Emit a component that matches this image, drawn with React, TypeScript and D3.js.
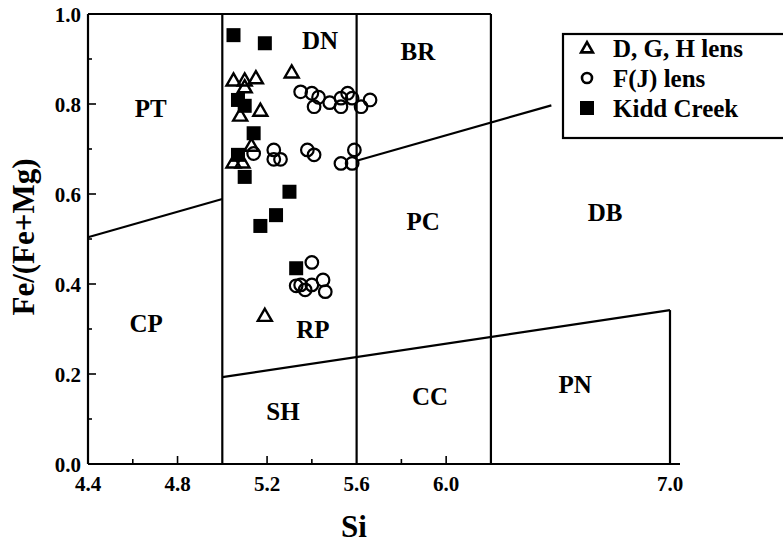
import { useRef, useEffect } from "react";
import * as d3 from "d3";

// D, G, H lens (open triangles)
const dghSi = [5.05, 5.10, 5.15, 5.31, 5.10, 5.08, 5.17, 5.13, 5.05, 5.09, 5.19];
const dghFe = [0.85, 0.85, 0.855, 0.868, 0.835, 0.772, 0.783, 0.705, 0.668, 0.668, 0.327];

// F(J) lens (open circles)
const fjSi = [5.35, 5.40, 5.43, 5.41, 5.48, 5.53, 5.56, 5.53, 5.58, 5.62, 5.66,
  5.14, 5.23, 5.23, 5.26, 5.38, 5.41, 5.53, 5.58, 5.59,
  5.40, 5.33, 5.35, 5.37, 5.40, 5.45, 5.46];
const fjFe = [0.827, 0.824, 0.815, 0.794, 0.803, 0.813, 0.824, 0.794, 0.813, 0.794, 0.809,
  0.69, 0.698, 0.677, 0.677, 0.698, 0.687, 0.668, 0.668, 0.698,
  0.448, 0.396, 0.398, 0.387, 0.398, 0.409, 0.383];

// Kidd Creek (filled squares)
const kiddSi = [5.05, 5.19, 5.07, 5.10, 5.14, 5.07, 5.10, 5.30, 5.24, 5.17, 5.33];
const kiddFe = [0.953, 0.935, 0.809, 0.796, 0.735, 0.687, 0.638, 0.605, 0.553, 0.529, 0.435];

// field boundaries [si1, fe1, si2, fe2]
const boundaries = [
  [4.4, 0.504, 5.0, 0.589],
  [5.6, 0.674, 6.47, 0.797],
  [5.0, 0.193, 7.0, 0.342],
  [5.0, 0, 5.0, 1],
  [5.6, 0, 5.6, 1],
  [6.2, 0, 6.2, 1],
  [7.0, 0, 7.0, 0.342],
  [4.4, 1, 6.2, 1],
];

const fieldNames = ["PT", "CP", "DN", "BR", "PC", "DB", "RP", "SH", "CC", "PN"];
const fieldSi = [4.68, 4.66, 5.437, 5.874, 5.897, 6.71, 5.405, 5.271, 5.928, 6.576];
const fieldFe = [0.791, 0.313, 0.942, 0.916, 0.538, 0.56, 0.298, 0.116, 0.149, 0.176];

const xLabels = [4.4, 4.8, 5.2, 5.6, 6.0, 7.0];
const xMajor = [4.8, 5.2, 6.0];
const xMinor = [4.6, 5.4, 5.8];
const yLabels = [0, 0.2, 0.4, 0.6, 0.8, 1.0];
const yMinor = [0.1, 0.3, 0.5, 0.7, 0.9];

const legendNames = ["D, G, H lens", "F(J) lens", "Kidd Creek"];

const App = () => {
  const svgRef = useRef<SVGSVGElement>(null);

  useEffect(() => {
    const width = 783;
    const height = 543;
    const font = "Liberation Serif, Tinos, Times New Roman, DejaVu Serif, serif";
    const svg = d3.select(svgRef.current).attr("width", width).attr("height", height)
      .attr("font-family", font).attr("font-weight", "bold");
    svg.selectAll("*").remove();

    const x = d3.scaleLinear().domain([4.4, 7.0]).range([88, 670]);
    const y = d3.scaleLinear().domain([0, 1]).range([464, 14]);

    svg.append("rect").attr("width", width).attr("height", height).attr("fill", "#fff");

    // axes
    svg.append("line").attr("x1", x(4.4)).attr("x2", x(4.4)).attr("y1", y(0)).attr("y2", y(1))
      .attr("stroke", "#000").attr("stroke-width", 2.2);
    svg.append("line").attr("x1", x(4.4)).attr("x2", x(7.0) + 10).attr("y1", y(0)).attr("y2", y(0))
      .attr("stroke", "#000").attr("stroke-width", 2.2);

    // tick marks
    svg.append("g").selectAll("line").data(yLabels.concat(yMinor)).join("line")
      .attr("x1", x(4.4)).attr("x2", d => x(4.4) + (yLabels.includes(d) ? 8 : 4))
      .attr("y1", d => y(d)).attr("y2", d => y(d))
      .attr("stroke", "#000").attr("stroke-width", 1.6);
    svg.append("g").selectAll("line").data(xMajor.concat(xMinor)).join("line")
      .attr("x1", d => x(d)).attr("x2", d => x(d))
      .attr("y1", y(0)).attr("y2", d => y(0) - (xMajor.includes(d) ? 8 : 5))
      .attr("stroke", "#000").attr("stroke-width", 1.6);

    // tick labels
    svg.append("g").selectAll("text").data(yLabels).join("text")
      .text(d => d.toFixed(1))
      .attr("x", x(4.4) - 7).attr("y", d => y(d) + 1)
      .attr("text-anchor", "end").attr("dominant-baseline", "central")
      .attr("font-size", 21);
    svg.append("g").selectAll("text").data(xLabels).join("text")
      .text(d => d.toFixed(1))
      .attr("x", d => x(d)).attr("y", y(0) + 20)
      .attr("text-anchor", "middle").attr("dominant-baseline", "central")
      .attr("font-size", 21);

    // axis titles
    svg.append("text").text("Si").attr("x", 354).attr("y", 526)
      .attr("text-anchor", "middle").attr("dominant-baseline", "central").attr("font-size", 31);
    svg.append("text").text("Fe/(Fe+Mg)")
      .attr("transform", "translate(23,237) rotate(-90)")
      .attr("text-anchor", "middle").attr("dominant-baseline", "central").attr("font-size", 31);

    // field boundaries
    svg.append("g").selectAll("line").data(boundaries).join("line")
      .attr("x1", d => x(d[0])).attr("y1", d => y(d[1]))
      .attr("x2", d => x(d[2])).attr("y2", d => y(d[3]))
      .attr("stroke", "#000").attr("stroke-width", 2.2);

    // field names
    svg.append("g").selectAll("text").data(fieldNames).join("text")
      .text(d => d)
      .attr("x", (d, i) => x(fieldSi[i])).attr("y", (d, i) => y(fieldFe[i]))
      .attr("text-anchor", "middle").attr("dominant-baseline", "central")
      .attr("font-size", 25);

    const tri = d3.symbol().type(d3.symbolTriangle).size(85);
    const triSmall = d3.symbol().type(d3.symbolTriangle).size(60);

    // Kidd Creek
    svg.append("g").selectAll("rect").data(kiddSi).join("rect")
      .attr("x", d => x(d) - 7).attr("y", (d, i) => y(kiddFe[i]) - 7)
      .attr("width", 14).attr("height", 14).attr("fill", "#000");

    // D, G, H lens
    svg.append("g").selectAll("path").data(dghSi).join("path")
      .attr("d", tri)
      .attr("transform", (d, i) => `translate(${x(d)},${y(dghFe[i])})`)
      .attr("fill", "none").attr("stroke", "#000").attr("stroke-width", 2.4);

    // F(J) lens
    svg.append("g").selectAll("circle").data(fjSi).join("circle")
      .attr("cx", d => x(d)).attr("cy", (d, i) => y(fjFe[i])).attr("r", 6.3)
      .attr("fill", "none").attr("stroke", "#000").attr("stroke-width", 2.2);

    // legend
    const lg = svg.append("g");
    lg.append("rect").attr("x", 563).attr("y", 34).attr("width", 240).attr("height", 104)
      .attr("fill", "#fff").attr("stroke", "#000").attr("stroke-width", 2.2);
    const rows = [48, 78, 108];
    lg.append("path").attr("d", triSmall).attr("transform", `translate(587,${rows[0] + 1})`)
      .attr("fill", "none").attr("stroke", "#000").attr("stroke-width", 2.6);
    lg.append("circle").attr("cx", 587).attr("cy", rows[1]).attr("r", 5)
      .attr("fill", "none").attr("stroke", "#000").attr("stroke-width", 2.6);
    lg.append("rect").attr("x", 580).attr("y", rows[2] - 7).attr("width", 14).attr("height", 14)
      .attr("fill", "#000");
    lg.append("g").selectAll("text").data(legendNames).join("text")
      .text(d => d)
      .attr("x", 613).attr("y", (d, i) => rows[i])
      .attr("dominant-baseline", "central").attr("font-size", 25);
  }, []);

  return <svg ref={svgRef} style={{ position: "absolute", left: 0, top: 0, display: "block" }}></svg>;
};

export default App;
